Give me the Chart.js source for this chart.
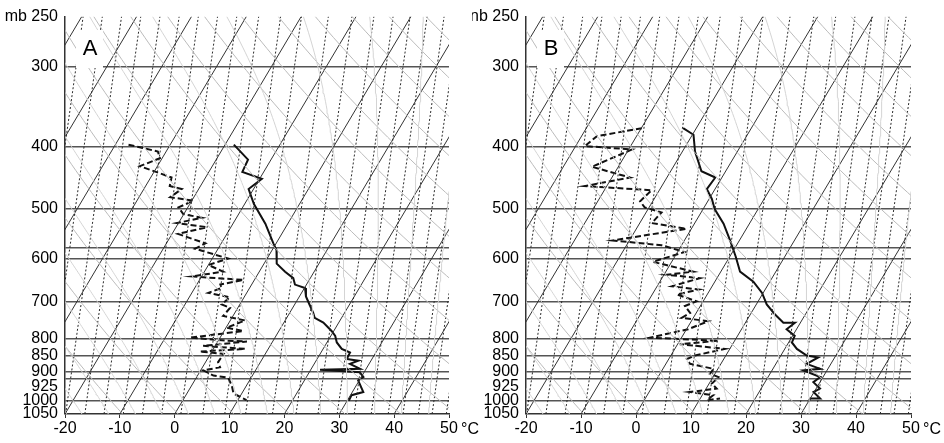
<!DOCTYPE html>
<html><head><meta charset="utf-8">
<script src="https://cdn.jsdelivr.net/npm/chart.js@4.4.1/dist/chart.umd.min.js"></script>
<style>
html,body{margin:0;padding:0;background:#fff;}
#wrap{position:relative;width:944px;height:443px;overflow:hidden;}
canvas{position:absolute;left:0;top:0;}
</style></head><body>
<div id="wrap"><canvas id="cA" width="944" height="443"></canvas><canvas id="cB" width="944" height="443"></canvas></div>
<script>
// ---- axis values ----
const tempTicks = [-20,-10,0,10,20,30,40,50];
const pressureLabelTicks = [250,300,400,500,600,700,800,850,900,950,1000,1050];
const pressureLabelText = ['250','300','400','500','600','700','800','850','900','925','1000','1050'];
const pressureLines = [300,400,500,577,600,700,800,850,900,925,1000];
const topUnitA = 'mb';
const topUnitB = 'nb';
const panelNames = ['A','B'];
const unitLabel = '°C';

// ---- panel A: temperature (solid) ----
const aTempP = [397,419,438,449,466,492,528,567,581,610,628,643,658,666,687,707,729,742,755,778,792,811,830,841,861,866,876,892,895,903,919,930,970,981,1001];
const aTempT = [-18.4,-14.2,-13.9,-9.6,-10.9,-8.3,-4.1,-0.5,0.8,2.3,4.7,6.9,7.9,10.1,11.2,12.7,14.3,15.1,17.2,19.6,20.8,21.8,23.4,25.3,25.4,27.7,26.5,28.9,21.7,29.2,30.4,29.8,32.0,30.2,30.3];
// ---- panel A: dew point (dashed) ----
const aDewP = [397,407,417,429,447,461,466,480,486,498,510,517,527,535,548,567,578,599,613,628,639,647,658,666,678,689,707,716,737,749,769,778,797,806,808,821,830,838,845,871,887,897,914,921,947,975,999];
const aDewT = [-37.6,-31.5,-30.4,-33.2,-26.2,-25.6,-23.1,-24.3,-19.7,-21.7,-20.1,-16.3,-20.3,-14.4,-18.9,-12.9,-14.2,-7.1,-10.0,-6.6,-11.8,-2.0,-5.7,-5.1,-7.0,-2.6,-3.3,-1.4,-1.8,2.7,0.1,3.5,-5.5,1.5,5.3,-2.2,5.8,-2.2,2.4,2.3,3.2,0.5,2.9,5.8,7.3,8.5,11.6];
// ---- panel B: temperature (solid) ----
const bTempP = [374,383,407,437,447,466,483,501,528,561,595,628,651,678,707,733,755,755,773,792,811,830,850,856,876,892,897,919,936,958,970,993,993,1005];
const bTempT = [-22.4,-19.8,-17.7,-14.4,-11.2,-11.5,-9.5,-7.9,-4.7,-1.7,1.1,3.5,7.0,9.8,11.9,14.5,16.9,19.0,18.2,20.4,20.6,22.2,24.7,27.0,25.6,28.6,25.7,29.5,28.8,30.7,29.9,31.8,30.0,30.0];
// ---- panel B: dew point (dashed) ----
const bDewP = [374,385,399,404,430,447,461,468,487,498,507,527,538,561,571,585,606,628,635,643,662,670,682,699,711,729,742,751,773,797,806,816,830,850,861,876,892,908,919,941,958,970,981,999,993];
const bDewT = [-29.9,-37.2,-38.3,-29.4,-34.8,-26.7,-34.0,-21.4,-22.3,-20.8,-17.2,-17.8,-10.9,-23.0,-13.6,-8.7,-13.4,-5.0,-9.5,-3.1,-7.3,-2.1,-5.5,-1.2,-2.8,-1.1,-2.1,3.1,0.3,-5.7,7.0,0.4,9.1,4.4,3.3,4.4,9.2,9.1,11.0,10.5,11.9,7.4,12.0,11.4,13.6];

// ---- diagram background families ----
const isothermValues = [-100,-90,-80,-70,-60,-50,-40,-30,-20,-10,0,10,20,30,40,50];
const dryAdiabatTheta = [230,240,250,260,270,280,290,300,310,320,330,340,350,360,370,380,390,400,410,420,430,440,450,460,470,480,490,500];
const moistAdiabatStart = [-20,-15,-10,-5,0,5,10,15,20,25,30,35,40,45];
// dotted guide lines: temperature where each crosses the 1000 mb level
const dottedLineT1000 = [-36,-32,-28,-24.5,-21,-17.5,-14,-10.5,-7,-3.5,0,4,8,11.8,16.7,21,25,28.5,31.6,34.7,37.8,40.5,43.3,45.8,48.4];
const DOTTED_DRIFT = 7.1; // skewed degrees per ln(p) unit

const SKEW = 30, P_BOT = 1050, P_TOP = 250;
function skewX(T,p){ return T + SKEW*Math.log(P_BOT/p); }
function profile(P,T){ return P.map((p,i)=>({x:skewX(T[i],p), y:p})); }
function levels(){ const a=[]; for(let lp=Math.log(P_BOT); lp>=Math.log(P_TOP)-1e-9; lp-=0.02) a.push(Math.exp(lp)); a.push(P_TOP); return a; }
const LV = levels();

function bgSets(){
  const sets=[];
  const gray = (data,color,w,dash)=>({data,showLine:true,pointRadius:0,borderColor:color,borderWidth:w,borderDash:dash||[],clip:0,tension:0});
  const Rd=287.04, cp=1005.7, Lv=2.501e6, eps=0.622;
  function es(Tc){ return 6.112*Math.exp(17.67*Tc/(Tc+243.5)); }
  function step(T,p,dp){ const e=es(T-273.15); const rs=eps*e/(p-e); const d=(Rd*T+Lv*rs)/(cp+Lv*Lv*rs*eps/(Rd*T*T))/p; return T+d*dp; }
  moistAdiabatStart.forEach(t0=>{
    const up=[], dn=[];
    let Tu=t0+273.15,pu=1000; up.push({x:skewX(Tu-273.15,pu),y:pu});
    while(pu>P_TOP){ const np=Math.max(P_TOP,pu-5); Tu=step(Tu,pu,np-pu); pu=np; up.push({x:skewX(Tu-273.15,pu),y:pu}); }
    let Td=t0+273.15,pd=1000;
    while(pd<P_BOT){ const np=Math.min(P_BOT,pd+5); Td=step(Td,pd,np-pd); pd=np; dn.push({x:skewX(Td-273.15,pd),y:pd}); }
    sets.push(gray(dn.reverse().concat(up),'#d4d4d4',1));
  });
  dryAdiabatTheta.forEach(th=>{
    sets.push(gray(LV.map(p=>({x:skewX(th*Math.pow(p/1000,0.2857)-273.15,p),y:p})),'#bbbbbb',1));
  });
  dottedLineT1000.forEach(t=>{
    const x0 = skewX(t,1000) - DOTTED_DRIFT*Math.log(P_BOT/1000);
    sets.push(gray([{x:x0,y:P_BOT},{x:x0+DOTTED_DRIFT*Math.log(P_BOT/P_TOP),y:P_TOP}],'#2a2a2a',1,[2,2]));
  });
  isothermValues.forEach(t=>{
    sets.push(gray([{x:skewX(t,P_BOT),y:P_BOT},{x:skewX(t,P_TOP),y:P_TOP}],'#333',1));
  });
  return sets;
}

function makeChart(id, cfg){
  const labelFont = {family:"'Liberation Sans', Arial, sans-serif", size:16};
  const overlay = {
    id:'overlay'+id,
    afterDatasetsDraw(chart){
      const ctx=chart.ctx, ca=chart.chartArea, xs=chart.scales.x;
      ctx.save();
      ctx.fillStyle='#fff';
      ctx.fillRect(ca.left+11, 30, 27, 38);
      ctx.fillStyle='#000';
      ctx.font="22px 'Liberation Sans', Arial, sans-serif";
      ctx.textAlign='center'; ctx.textBaseline='middle';
      ctx.fillText(cfg.name, ca.left+25, 49);
      ctx.font="16px 'Liberation Sans', Arial, sans-serif";
      ctx.textAlign='left';
      ctx.fillText(unitLabel, xs.getPixelForValue(50)+12, 430);
      ctx.restore();
    }
  };
  const datasets = bgSets();
  datasets.push({data:profile(cfg.dewP,cfg.dewT),showLine:true,pointRadius:0,borderColor:'#111',borderWidth:2,borderDash:[6,3],clip:0,tension:0});
  datasets.push({data:profile(cfg.tP,cfg.tT),showLine:true,pointRadius:0,borderColor:'#111',borderWidth:2,clip:0,tension:0});
  return new Chart(document.getElementById(id),{
    type:'scatter',
    data:{datasets},
    options:{
      responsive:false, animation:false, devicePixelRatio:1,
      events:[],
      layout:{padding:{left:cfg.padL,right:cfg.padR,top:12,bottom:0}},
      plugins:{legend:{display:false},tooltip:{enabled:false}},
      scales:{
        x:{type:'linear',min:-20,max:50,
          afterBuildTicks:s=>{s.ticks=tempTicks.map(v=>({value:v}));},
          afterFit:s=>{s.height=29;},
          grid:{display:true,drawOnChartArea:false,drawTicks:true,tickLength:4,color:'#333',lineWidth:1},
          border:{display:true,color:'#333',width:1.5},
          ticks:{font:labelFont,color:'#000',padding:1,maxRotation:0,autoSkip:false}
        },
        y:{type:'logarithmic',reverse:true,min:250,max:1050,
          afterBuildTicks:s=>{ const all=[...new Set(pressureLabelTicks.concat(pressureLines))].sort((a,b)=>a-b); s.ticks=all.map(v=>({value:v})); },
          afterFit:s=>{s.width=cfg.yW;},
          grid:{display:true,drawTicks:false,
            color:c=>pressureLines.includes(c.tick.value)?'#555':'rgba(0,0,0,0)',
            lineWidth:c=>pressureLines.includes(c.tick.value)?1.5:0},
          border:{display:true,color:'#333',width:1.5},
          ticks:{font:labelFont,color:'#000',padding:7,autoSkip:false,
            callback:(v)=>{ const i=pressureLabelTicks.indexOf(v); if(i<0) return ''; return (v===250? cfg.topUnit+' ':'')+pressureLabelText[i]; }}
        }
      }
    },
    plugins:[overlay]
  });
}

makeChart('cA',{name:panelNames[0],topUnit:topUnitA,tP:aTempP,tT:aTempT,dewP:aDewP,dewT:aDewT,padL:0,yW:65,padR:944-449});
makeChart('cB',{name:panelNames[1],topUnit:topUnitB,tP:bTempP,tT:bTempT,dewP:bDewP,dewT:bDewT,padL:472,yW:54,padR:944-911});
</script>
</body></html>
